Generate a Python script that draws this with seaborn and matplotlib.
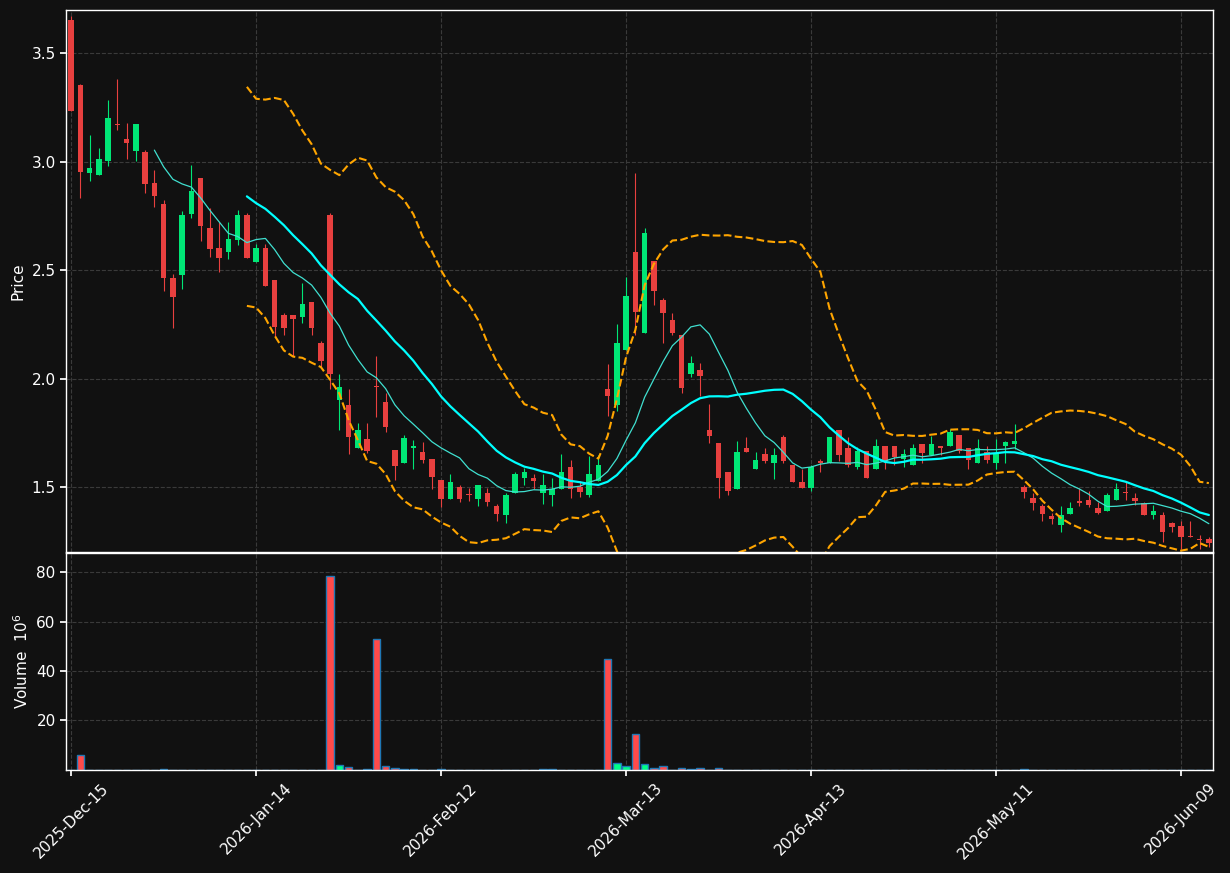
import numpy as np
import pandas as pd
import matplotlib
matplotlib.use("Agg")
import matplotlib.pyplot as plt
import seaborn as sns

opens = [3.652,3.353,2.950,2.941,3.002,3.175,3.106,3.051,3.045,2.902,
         2.806,2.465,2.479,2.760,2.926,2.696,2.603,2.582,2.641,2.755,
         2.540,2.603,2.455,2.293,2.293,2.282,2.354,2.165,2.755,1.899,
         1.877,1.678,1.721,1.965,1.893,1.671,1.609,1.678,1.662,1.630,
         1.534,1.446,1.502,1.467,1.446,1.473,1.412,1.369,1.473,1.540,
         1.543,1.473,1.462,1.492,1.593,1.502,1.462,1.529,1.954,1.877,
         2.130,2.583,2.210,2.542,2.362,2.269,2.202,2.021,2.039,1.764,
         1.704,1.569,1.489,1.681,1.582,1.652,1.609,1.729,1.601,1.524,
         1.497,1.620,1.609,1.764,1.681,1.591,1.668,1.582,1.689,1.689,
         1.630,1.601,1.700,1.649,1.689,1.689,1.739,1.678,1.609,1.662,
         1.609,1.690,1.700,1.502,1.449,1.412,1.364,1.325,1.377,1.431,
         1.441,1.401,1.388,1.438,1.475,1.450,1.428,1.369,1.369,1.332,
         1.321,1.273,1.258,1.261]
closes = [3.232,2.952,2.971,3.011,3.200,3.170,3.088,3.175,2.899,2.840,
          2.462,2.378,2.755,2.865,2.702,2.598,2.556,2.644,2.755,2.558,
          2.603,2.429,2.240,2.231,2.277,2.345,2.231,2.079,2.021,1.962,
          1.729,1.764,1.668,1.960,1.777,1.599,1.724,1.691,1.625,1.548,
          1.446,1.524,1.446,1.463,1.510,1.429,1.377,1.465,1.559,1.569,
          1.529,1.508,1.492,1.569,1.489,1.478,1.559,1.601,1.918,2.165,
          2.381,2.309,2.670,2.402,2.301,2.210,1.958,2.071,2.010,1.737,
          1.540,1.481,1.662,1.659,1.623,1.620,1.646,1.620,1.521,1.497,
          1.593,1.612,1.729,1.649,1.601,1.668,1.540,1.689,1.620,1.636,
          1.652,1.681,1.657,1.700,1.678,1.753,1.668,1.625,1.678,1.625,
          1.657,1.706,1.713,1.478,1.428,1.377,1.351,1.369,1.401,1.427,
          1.417,1.382,1.465,1.492,1.471,1.433,1.369,1.391,1.292,1.317,
          1.268,1.270,1.255,1.240]
highs = [3.671,3.360,3.123,3.062,3.284,3.380,3.178,3.175,3.056,2.962,
         2.822,2.482,2.774,2.984,2.926,2.787,2.720,2.720,2.779,2.763,
         2.619,2.619,2.455,2.301,2.293,2.439,2.354,2.173,2.763,2.021,
         1.954,1.793,1.793,2.106,1.934,1.671,1.742,1.718,1.707,1.630,
         1.534,1.559,1.510,1.497,1.510,1.497,1.421,1.470,1.569,1.588,
         1.559,1.559,1.540,1.652,1.625,1.529,1.641,1.649,2.069,2.250,
         2.470,2.950,2.694,2.542,2.370,2.301,2.202,2.103,2.074,1.881,
         1.704,1.569,1.713,1.729,1.662,1.678,1.678,1.742,1.601,1.585,
         1.600,1.630,1.729,1.764,1.729,1.684,1.668,1.721,1.689,1.689,
         1.673,1.700,1.700,1.737,1.690,1.769,1.739,1.678,1.721,1.690,
         1.721,1.713,1.790,1.508,1.470,1.421,1.380,1.412,1.429,1.497,
         1.481,1.429,1.473,1.518,1.524,1.473,1.432,1.417,1.385,1.340,
         1.341,1.341,1.277,1.267]
lows = [3.232,2.832,2.910,2.941,2.979,3.147,3.011,3.003,2.856,2.790,
        2.405,2.232,2.415,2.739,2.635,2.562,2.490,2.550,2.614,2.558,
        2.540,2.425,2.194,2.199,2.103,2.258,2.202,2.050,1.954,1.761,
        1.652,1.678,1.657,1.822,1.753,1.534,1.609,1.582,1.609,1.492,
        1.409,1.446,1.429,1.433,1.412,1.412,1.341,1.332,1.473,1.510,
        1.492,1.421,1.412,1.492,1.449,1.454,1.454,1.529,1.829,1.849,
        2.130,2.202,2.210,2.341,2.165,2.202,1.934,2.005,1.918,1.705,
        1.449,1.465,1.489,1.659,1.582,1.609,1.535,1.609,1.521,1.497,
        1.481,1.569,1.609,1.620,1.593,1.582,1.540,1.582,1.585,1.601,
        1.593,1.601,1.609,1.649,1.649,1.689,1.657,1.585,1.609,1.609,
        1.585,1.609,1.673,1.449,1.393,1.341,1.327,1.293,1.377,1.412,
        1.409,1.377,1.388,1.438,1.441,1.418,1.369,1.353,1.248,1.292,
        1.216,1.268,1.216,1.224]
volumes = [0.1,6.0,0.02,0.02,0.15,0.15,0.02,0.02,0.15,0.15,
           0.5,0.15,0.15,0.15,0.15,0.15,0.15,0.02,0.02,0.02,
           0.02,0.15,0.15,0.02,0.15,0.15,0.02,0.02,78.4,2.0,
           1.2,0.15,0.4,52.8,1.6,0.8,0.4,0.4,0.15,0.15,
           0.4,0.1,0.1,0.1,0.1,0.1,0.1,0.1,0.1,0.1,
           0.1,0.2,0.3,0.1,0.1,0.1,0.1,0.1,44.9,2.9,
           1.6,14.7,2.4,1.0,1.6,0.1,1.0,0.5,1.0,0.1,
           1.0,0.1,0.1,0.1,0.1,0.1,0.1,0.1,0.1,0.1,
           0.1,0.1,0.1,0.1,0.1,0.1,0.1,0.1,0.1,0.1,
           0.1,0.1,0.1,0.1,0.1,0.1,0.1,0.1,0.1,0.1,
           0.1,0.1,0.1,0.4,0.1,0.1,0.1,0.1,0.1,0.1,
           0.1,0.1,0.1,0.1,0.1,0.1,0.1,0.1,0.1,0.1,
           0.1,0.1,0.1,0.1]
tick_labels = ["2025-Dec-15","2026-Jan-14","2026-Feb-12","2026-Mar-13",
               "2026-Apr-13","2026-May-11","2026-Jun-09"]
tick_pos = [0, 20, 40, 60, 80, 100, 120]

BG = "#111111"
UP = "#00e676"
DN = "#e8403f"
sns.set_theme(style="dark", rc={"axes.facecolor": BG, "figure.facecolor": BG})
plt.rcParams['font.family'] = ['DejaVu Sans']

df = pd.DataFrame({"i": np.arange(len(opens)), "o": opens, "h": highs,
                   "l": lows, "c": closes, "v": volumes})
df["ma10"] = df["c"].rolling(10).mean()
df["ma20"] = df["c"].rolling(20).mean()
sd = df["c"].rolling(20).std(ddof=0)
df["bbu"] = df["ma20"] + 2 * sd
df["bbl"] = df["ma20"] - 2 * sd
up = df["c"] >= df["o"]
cols = np.where(up, UP, DN)

fig = plt.figure(figsize=(12.3, 8.73), dpi=100)
ax = fig.add_axes([0.0537, 0.3677, 0.9325, 0.6208])
axv = fig.add_axes([0.0537, 0.118, 0.9325, 0.2486], sharex=ax)

ax.vlines(df["i"], df["l"], df["h"], colors=cols, linewidth=0.8)
body = np.maximum((df["c"] - df["o"]).abs(), 0.006)
ax.bar(df["i"], body, bottom=np.minimum(df["o"], df["c"]), width=0.6, color=cols, linewidth=0)
sns.lineplot(data=df, x="i", y="ma10", ax=ax, color="#40E0D0", linewidth=0.9)
sns.lineplot(data=df, x="i", y="ma20", ax=ax, color="#00FFFF", linewidth=1.6)
sns.lineplot(data=df, x="i", y="bbu", ax=ax, color="orange", linewidth=1.5, linestyle="--")
sns.lineplot(data=df, x="i", y="bbl", ax=ax, color="orange", linewidth=1.5, linestyle="--")

axv.bar(df["i"], df["v"], width=0.8, color=np.where(up, "#00ff88", "#ff4a4a"),
        edgecolor="#1f77b4", linewidth=1.0)

ax.set_xlim(-0.55, 123.45)
ax.set_ylim(1.20, 3.70)
axv.set_ylim(0, 87.7)
ax.set_yticks([1.5, 2.0, 2.5, 3.0, 3.5])
axv.set_yticks([20, 40, 60, 80])
axv.set_xticks(tick_pos)
axv.set_xticklabels(tick_labels, rotation=45, ha="center")
plt.setp(ax.get_xticklabels(), visible=False)
ax.set_xlabel(""); axv.set_xlabel("")
ax.set_ylabel("Price", color="white", fontsize=11)
axv.set_ylabel("Volume  $10^{6}$", color="white", fontsize=11)
for a in (ax, axv):
    a.grid(True, color="#3a3a3a", linestyle="--", linewidth=0.8)
    a.tick_params(colors="white", labelsize=11, length=4, left=True, bottom=True)
    for s in a.spines.values():
        s.set_color("white")
        s.set_linewidth(1.0)
fig.savefig("out.png", dpi=100, facecolor=BG)
